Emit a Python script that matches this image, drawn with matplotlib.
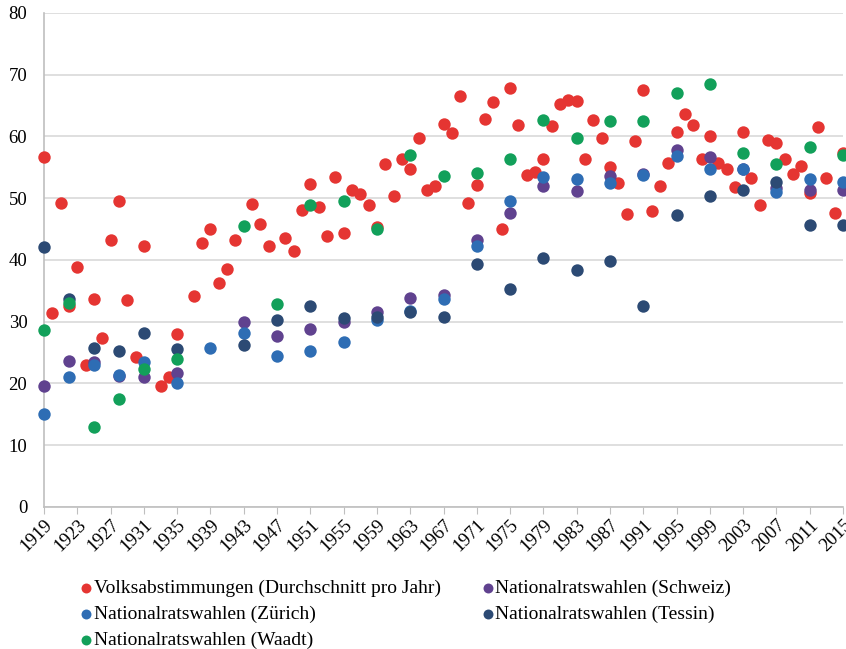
import matplotlib.pyplot as plt

plt.rcParams['font.family'] = ['Liberation Serif', 'DejaVu Serif']

# Volksabstimmungen (Durchschnitt pro Jahr)
volk_years = [1919, 1920, 1921, 1922, 1923, 1924, 1925, 1926, 1927, 1928, 1929, 1930, 1931,
              1933, 1934, 1935, 1937, 1938, 1939, 1940, 1941, 1942, 1944, 1945, 1946, 1948,
              1949, 1950, 1951, 1952, 1953, 1954, 1955, 1956, 1957, 1958, 1959, 1960, 1961,
              1962, 1963, 1964, 1965, 1966, 1967, 1968, 1969, 1970, 1971, 1972, 1973, 1974,
              1975, 1976, 1977, 1978, 1979, 1980, 1981, 1982, 1983, 1984, 1985, 1986, 1987,
              1988, 1989, 1990, 1991, 1992, 1993, 1994, 1995, 1996, 1997, 1998, 1999, 2000,
              2001, 2002, 2003, 2004, 2005, 2006, 2007, 2008, 2009, 2010, 2011, 2012, 2013,
              2014, 2015]
volk = [56.6, 31.4, 49.2, 32.6, 38.8, 23.0, 33.6, 27.3, 43.3, 49.6, 33.5, 24.3, 42.2,
        19.5, 21.1, 28.0, 34.1, 42.7, 45.0, 36.3, 38.5, 43.3, 49.1, 45.8, 42.3, 43.5,
        41.5, 48.1, 52.3, 48.5, 43.8, 53.5, 44.4, 51.4, 50.7, 48.9, 45.3, 55.5, 50.3,
        56.4, 54.7, 59.8, 51.4, 52.0, 62.0, 60.6, 66.5, 49.2, 52.2, 62.8, 65.6, 45.0,
        67.9, 61.8, 53.8, 54.3, 56.4, 61.7, 65.2, 65.9, 65.8, 56.3, 62.7, 59.8, 55.0,
        52.5, 47.4, 59.3, 67.6, 47.9, 52.0, 55.7, 60.8, 63.6, 61.9, 56.4, 60.0, 55.7,
        54.7, 51.8, 60.8, 53.2, 48.9, 59.4, 58.9, 56.3, 53.9, 55.2, 50.8, 61.5, 53.3,
        47.6, 57.4]

# Nationalratswahlen
wahl_years = [1919, 1922, 1925, 1928, 1931, 1935, 1939, 1943, 1947, 1951, 1955, 1959, 1963,
              1967, 1971, 1975, 1979, 1983, 1987, 1991, 1995, 1999, 2003, 2007, 2011, 2015]
schweiz = [19.6, 23.7, 23.4, 21.2, 21.1, 21.7, None, 29.9, 27.6, 28.8, 29.9, 31.6, 33.9,
           34.3, 43.2, 47.6, 51.9, 51.1, 53.6, 53.9, 57.8, 56.6, 54.8, 51.6, 51.3, 51.3]
zuerich = [15.1, 21.0, 22.9, 21.3, 23.4, 20.0, 25.7, 28.1, 24.5, 25.2, 26.7, 30.2, 31.7,
           33.7, 42.3, 49.6, 53.5, 53.1, 52.5, 53.8, 56.9, 54.8, 54.8, 51.0, 53.1, 52.7]
tessin = [42.1, 33.6, 25.7, 25.3, 28.2, 25.6, None, 26.3, 30.3, 32.5, 30.6, 30.8, 31.6,
          30.8, 39.3, 35.3, 40.3, 38.4, 39.8, 32.5, 47.2, 50.3, 51.3, 52.6, 45.7, 45.6]
waadt = [28.7, 33.1, 13.0, 17.4, 22.4, 23.9, None, 45.5, 32.9, 48.9, 49.5, 45.0, 57.0,
         53.6, 54.1, 56.4, 62.7, 59.8, 62.5, 62.5, 67.1, 68.5, 57.3, 55.6, 58.3, 57.0]

xticks = list(range(1919, 2016, 4))


def pts(years, vals):
    pairs = [(y, v) for y, v in zip(years, vals) if v is not None]
    return [p[0] for p in pairs], [p[1] for p in pairs]


fig = plt.figure(figsize=(8.46, 6.49), dpi=100)
ax = fig.add_axes([0.052, 0.219, 0.9445, 0.761])

s = 80
h_volk = ax.scatter(volk_years, volk, s=s, color='#E53532', linewidths=0, clip_on=False, zorder=3)
h_ch = ax.scatter(*pts(wahl_years, schweiz), s=s, color='#60428F', linewidths=0, clip_on=False, zorder=3)
h_zh = ax.scatter(*pts(wahl_years, zuerich), s=s, color='#2E6DB4', linewidths=0, clip_on=False, zorder=3)
h_ti = ax.scatter(*pts(wahl_years, tessin), s=s, color='#2C4A74', linewidths=0, clip_on=False, zorder=3)
h_vd = ax.scatter(*pts(wahl_years, waadt), s=s, color='#12A05A', linewidths=0, clip_on=False, zorder=3)

ax.set_xlim(1919, 2015)
ax.set_ylim(0, 80)
ax.set_yticks(range(0, 81, 10))
ax.set_xticks(xticks)
ax.set_xticklabels([str(t) for t in xticks], rotation=45, ha='right', rotation_mode='anchor')
ax.tick_params(axis='y', length=0, labelsize=13.5, pad=12)
ax.tick_params(axis='x', length=5, color='#BFBFBF', labelsize=13.5, pad=2)
ax.grid(axis='y', color='#D9D9D9', linewidth=1.2)
ax.set_axisbelow(True)
for side in ['top', 'right']:
    ax.spines[side].set_visible(False)
for side in ['left', 'bottom']:
    ax.spines[side].set_color('#BFBFBF')
    ax.spines[side].set_linewidth(1.2)

handles = [h_volk, h_zh, h_vd, h_ch, h_ti]
labels = ['Volksabstimmungen (Durchschnitt pro Jahr)', 'Nationalratswahlen (Zürich)',
          'Nationalratswahlen (Waadt)', 'Nationalratswahlen (Schweiz)',
          'Nationalratswahlen (Tessin)']
fig.legend(handles, labels, loc='upper left', bbox_to_anchor=(0.095, 0.107), ncol=2,
           frameon=False, fontsize=14, markerscale=0.8, handlelength=0.6,
           handletextpad=0.1, columnspacing=2.1, labelspacing=0.42, borderpad=0,
           borderaxespad=0)

fig.savefig('out.png', dpi=100)
